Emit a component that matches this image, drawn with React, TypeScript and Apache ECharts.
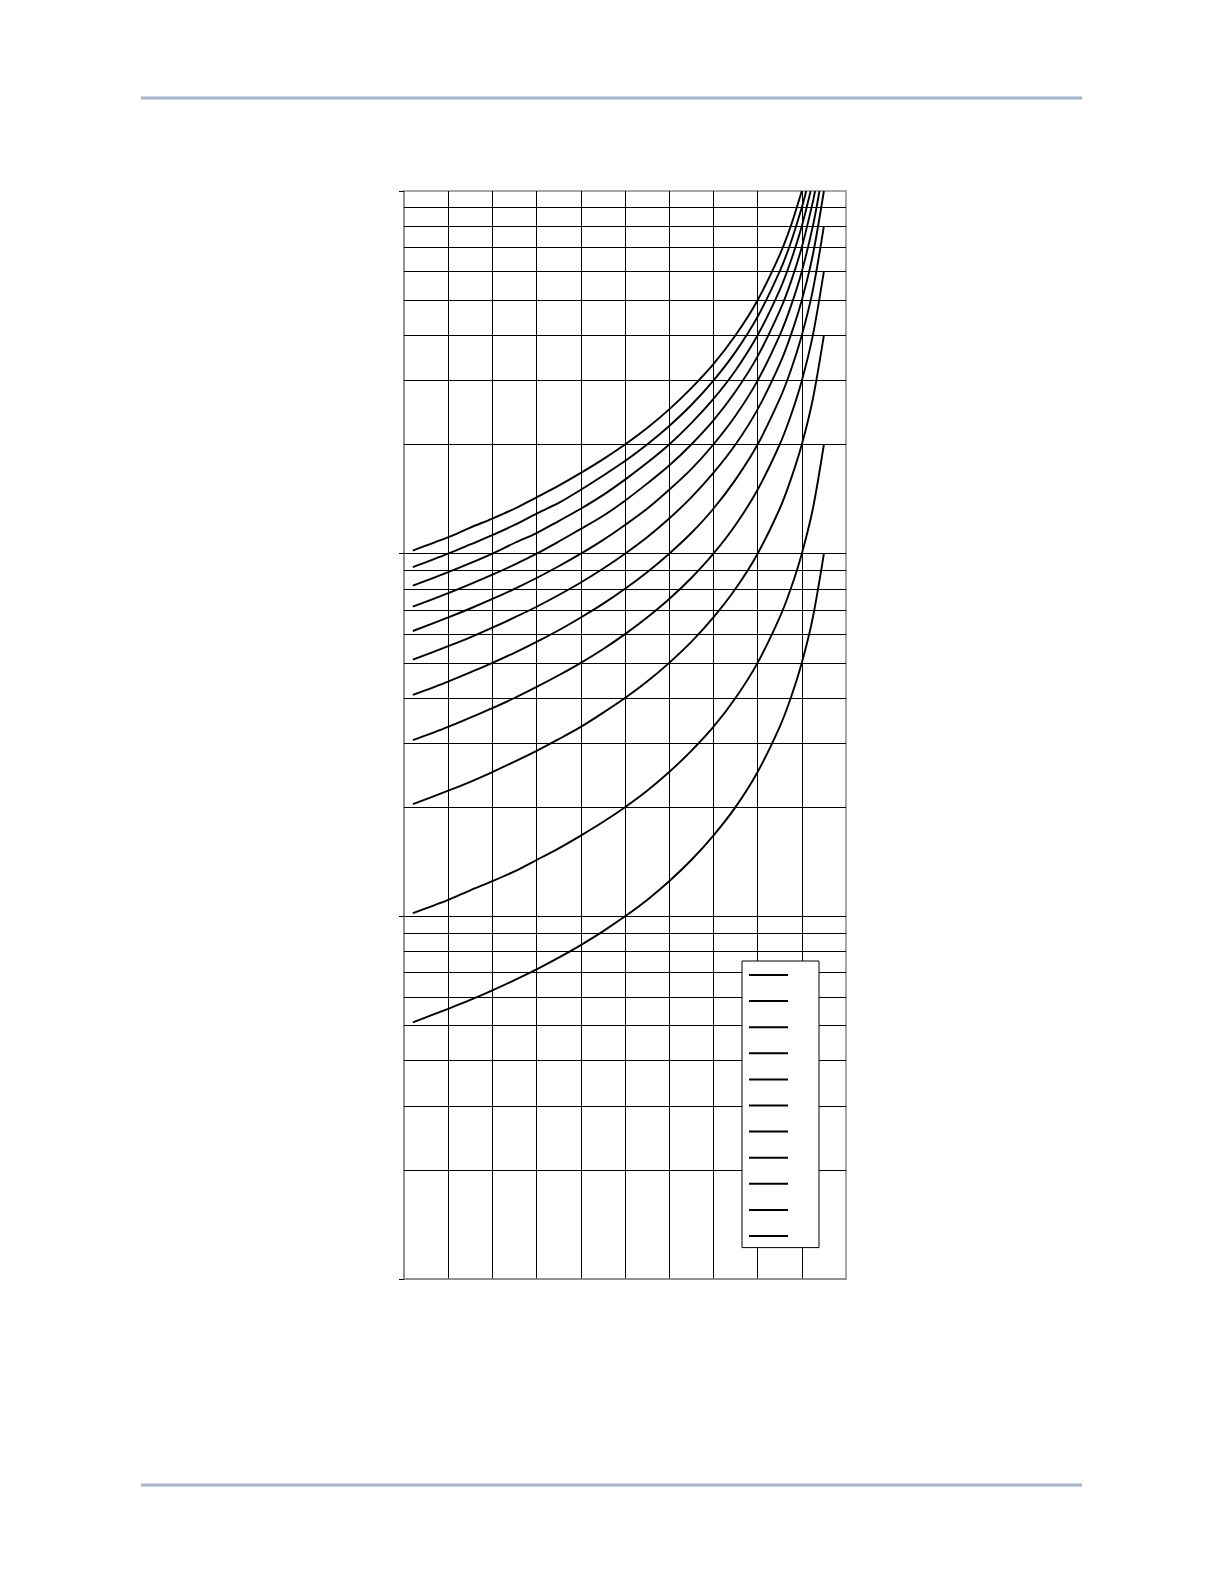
import { useEffect, useRef } from 'react'
import * as echarts from 'echarts'

// x positions where the curves were read (grid columns 0..10)
const xs = [0.2, 1, 1.5, 2, 2.5, 3, 3.5, 4, 4.5, 5, 5.5, 6, 6.5, 7, 7.5, 8, 8.5, 8.75, 9, 9.25]

// curve names (time dial settings), bottom curve first
const curveNames = ['0.5', '1', '2', '3', '4', '5', '6', '7', '8', '9', '10']

// values read at xs for each curve; null where the curve has already left the plot
const td05 = [5.1, 5.56, 5.88, 6.25, 6.67, 7.14, 7.69, 8.33, 9.09, 10, 11.1, 12.5, 14.3, 16.7, 20, 25, 33.3, 40, 50, 66.7]
const td1 = [10.2, 11.1, 11.8, 12.5, 13.3, 14.3, 15.4, 16.7, 18.2, 20, 22.2, 25, 28.6, 33.3, 40, 50, 66.7, 80, 100, 133]
const td2 = [20.4, 22.2, 23.5, 25, 26.7, 28.6, 30.8, 33.3, 36.4, 40, 44.4, 50, 57.1, 66.7, 80, 100, 133, 160, 200, 267]
const td3 = [30.6, 33.3, 35.3, 37.5, 40, 42.9, 46.2, 50, 54.5, 60, 66.7, 75, 85.7, 100, 120, 150, 200, 240, 300, 400]
const td4 = [40.8, 44.4, 47.1, 50, 53.3, 57.1, 61.5, 66.7, 72.7, 80, 88.9, 100, 114, 133, 160, 200, 267, 320, 400, 533]
const td5 = [51, 55.6, 58.8, 62.5, 66.7, 71.4, 76.9, 83.3, 90.9, 100, 111, 125, 143, 167, 200, 250, 333, 400, 500, 667]
const td6 = [61.2, 66.7, 70.6, 75, 80, 85.7, 92.3, 100, 109, 120, 133, 150, 171, 200, 240, 300, 400, 480, 600, 800]
const td7 = [71.4, 77.8, 82.4, 87.5, 93.3, 100, 108, 117, 127, 140, 156, 175, 200, 233, 280, 350, 467, 560, 700, 933]
const td8 = [81.6, 88.9, 94.1, 100, 107, 114, 123, 133, 145, 160, 178, 200, 229, 267, 320, 400, 533, 640, 800, null]
const td9 = [91.8, 100, 106, 112.5, 120, 129, 138, 150, 164, 180, 200, 225, 257, 300, 360, 450, 600, 720, 900, null]
const td10 = [102, 111, 118, 125, 133, 143, 154, 167, 182, 200, 222, 250, 286, 333, 400, 500, 667, 800, null, null]

// where each curve ends (right end or exit through the top edge)
const endX = [9.5, 9.5, 9.5, 9.5, 9.5, 9.5, 9.4, 9.3, 9.2, 9.1, 9.0]
const endY = [100, 200, 400, 600, 800, 1000, 1000, 1000, 1000, 1000, 1000]

// log minor grid lines
const minorLines = [2, 3, 4, 5, 6, 7, 8, 9, 20, 30, 40, 50, 60, 70, 80, 90, 200, 300, 400, 500, 600, 700, 800, 900]

const curves = [td05, td1, td2, td3, td4, td5, td6, td7, td8, td9, td10]

export default function App() {
  const chartRef = useRef<HTMLDivElement>(null)

  useEffect(() => {
    if (!chartRef.current) return
    const chart = echarts.init(chartRef.current, undefined, { renderer: 'svg' })

    const series: any[] = curves.map((vals, i) => {
      const data: [number, number][] = []
      vals.forEach((v, j) => {
        if (v != null && xs[j] < endX[i]) data.push([xs[j], v])
      })
      data.push([endX[i], endY[i]])
      return {
        name: curveNames[i],
        type: 'line',
        data,
        smooth: 0.3,
        symbol: 'none',
        showSymbol: false,
        lineStyle: { color: '#000', width: 1.9 },
        itemStyle: { color: '#000' },
        z: 3,
      }
    })

    series[0].markLine = {
      silent: true,
      symbol: ['none', 'none'],
      label: { show: false },
      lineStyle: { color: '#000', type: 'solid', width: 1 },
      emphasis: { disabled: true },
      data: minorLines.map((v) => ({ yAxis: v })),
      z: 1,
    }

    chart.setOption({
      animation: false,
      grid: {
        left: 404,
        top: 191,
        width: 442,
        height: 1088,
        show: true,
        borderColor: '#8a8a8a',
        borderWidth: 1.5,
        backgroundColor: 'transparent',
      },
      legend: {
        orient: 'vertical',
        left: 742,
        top: 961,
        padding: [7, 30, 6, 6],
        itemWidth: 39,
        itemHeight: 14,
        itemGap: 13.5,
        textGap: 0,
        formatter: () => '',
        textStyle: { fontSize: 8 },
        itemStyle: { opacity: 0 },
        lineStyle: { color: '#000', width: 2 },
        backgroundColor: '#fff',
        borderColor: '#000',
        borderWidth: 1,
        borderRadius: 0,
        selectedMode: false,
        z: 10,
        data: curveNames,
      },
      xAxis: {
        type: 'value',
        min: 0,
        max: 10,
        interval: 1,
        axisLine: { show: true, lineStyle: { color: '#8a8a8a', width: 1.5 } },
        axisTick: { show: false },
        axisLabel: { show: false },
        splitLine: {
          show: true,
          showMinLine: false,
          showMaxLine: false,
          lineStyle: { color: '#000', width: 1 },
        },
      },
      yAxis: {
        type: 'log',
        logBase: 10,
        min: 1,
        max: 1000,
        axisLine: { show: true, lineStyle: { color: '#8a8a8a', width: 1.5 } },
        axisTick: { show: true, length: 5, lineStyle: { color: '#000', width: 1 } },
        axisLabel: { show: false },
        splitLine: {
          show: true,
          showMinLine: false,
          showMaxLine: false,
          lineStyle: { color: '#000', width: 1 },
        },
      },
      graphic: [
        {
          type: 'line',
          shape: { x1: 141, y1: 98, x2: 1082, y2: 98 },
          style: { stroke: '#a0b4d4', lineWidth: 3 },
        },
        {
          type: 'line',
          shape: { x1: 141, y1: 1485, x2: 1082, y2: 1485 },
          style: { stroke: '#a0b4d4', lineWidth: 3 },
        },
      ],
      series,
    })

    return () => {
      chart.dispose()
    }
  }, [])

  return (
    <div
      ref={chartRef}
      style={{ position: 'absolute', left: 0, top: 0, width: 1224, height: 1584 }}
    />
  )
}
